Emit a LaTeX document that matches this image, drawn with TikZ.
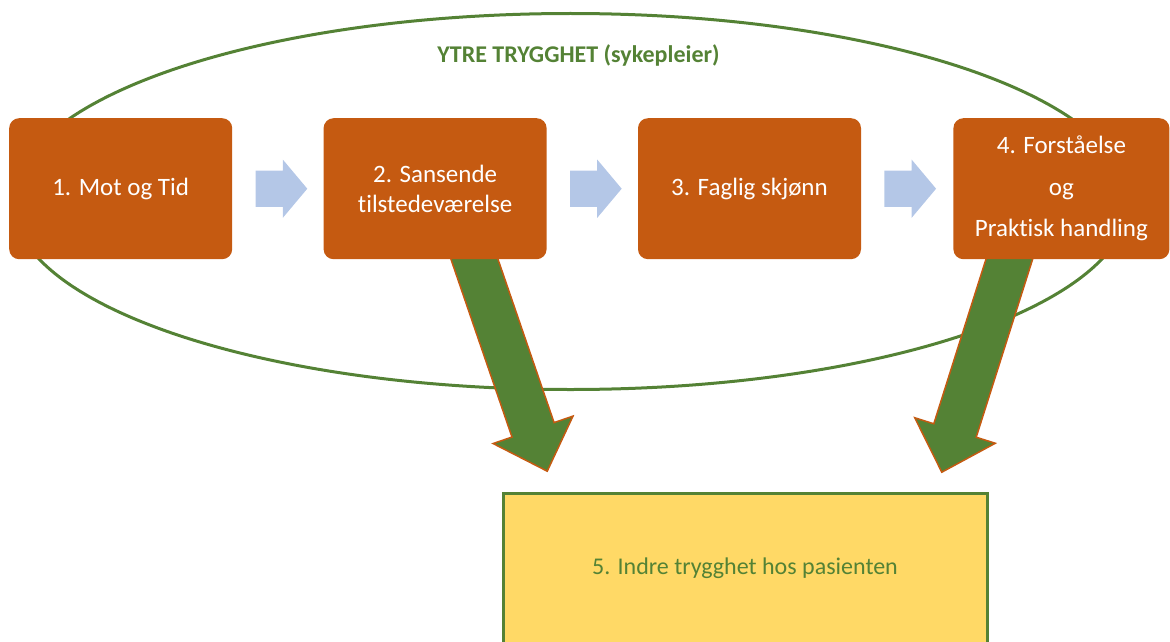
\documentclass[tikz,border=0pt]{standalone}
\usepackage{fontspec}
\setmainfont{Carlito}[Ligatures=NoCommon]
\usetikzlibrary{positioning, shapes.geometric, shapes.arrows, calc, backgrounds}
\definecolor{boxorange}{HTML}{C55A11}
\definecolor{leafgreen}{HTML}{548235}
\definecolor{paleblue}{HTML}{B4C7E7}
\definecolor{softyellow}{HTML}{FFD966}

\tikzset{
  stepbox/.style={fill=boxorange, rounded corners=10pt, minimum width=223pt, minimum height=141pt,
    inner sep=0pt, text=white, align=center, font=\fontsize{25}{30}\selectfont},
  flowarrow/.style={single arrow, fill=paleblue, minimum height=48pt, inner sep=18pt,
    single arrow head extend=11pt, single arrow tip angle=100},
  downarrow/.style={single arrow, fill=leafgreen, draw=boxorange, line width=1.5pt, inner sep=21.5pt,
    single arrow head extend=20pt, single arrow tip angle=88, anchor=tail},
}

\begin{document}
\begin{tikzpicture}[x=1pt, y=-1pt]
\useasboundingbox (0,0) rectangle (1170,642);

\node (b1) [stepbox, anchor=north west] at (9,118) {1. Mot og Tid};
\node (b2) [stepbox, right=91pt of b1] {2. Sansende\\tilstedeværelse};
\node (b3) [stepbox, right=91pt of b2] {3. Faglig skjønn};
\node (b4) [stepbox, minimum width=216pt, right=92pt of b3] {4. Forståelse\\[11.5pt]og\\[11.5pt]Praktisk handling};

\node (a12) [flowarrow, right=23pt of b1] {};
\node (a23) [flowarrow, right=23pt of b2] {};
\node (a34) [flowarrow, right=23pt of b3] {};

\node (b5) [draw=leafgreen, line width=3pt, fill=softyellow, minimum width=484pt, minimum height=150pt,
  text=leafgreen, font=\fontsize{24}{29}\selectfont] at (745,568) {5. Indre trygghet hos pasienten};

\begin{pgfonlayer}{background}
\node (outer) [ellipse, draw=leafgreen, line width=3pt, minimum width=1116pt, minimum height=376pt,
  inner sep=0pt] at (570.5,201.5) {};
\node (title) [text=leafgreen, font=\bfseries\fontsize{24}{29}\selectfont] at (578.5,55) {YTRE TRYGGHET (sykepleier)};

% green arrows down to the patient box
\coordinate (g1tail) at ($(b2.south)+(36,-10)$);
\coordinate (g1tip) at ($(b5.north)+(-198,-21)$);
\coordinate (g2tail) at ($(b4.south)+(-49,-10)$);
\coordinate (g2tip) at ($(b5.north)+(197,-20)$);
\path let \p1=($(g1tip)-(g1tail)$), \n1={atan2(\y1,\x1)}, \n2={veclen(\x1,\y1)} in
  node (d25) [downarrow, rotate=\n1, minimum height=\n2] at (g1tail) {};
\path let \p1=($(g2tip)-(g2tail)$), \n1={atan2(\y1,\x1)}, \n2={veclen(\x1,\y1)} in
  node (d45) [downarrow, rotate=\n1, minimum height=\n2] at (g2tail) {};
\end{pgfonlayer}

\end{tikzpicture}
\end{document}
